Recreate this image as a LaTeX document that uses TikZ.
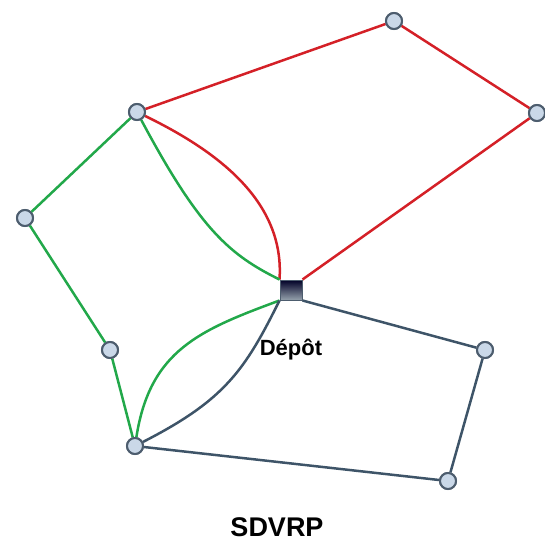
\documentclass[tikz,border=0pt]{standalone}
\usepackage{fontspec}
\setmainfont{Liberation Sans}
\definecolor{routered}{HTML}{D42027}
\definecolor{routegreen}{HTML}{22A84A}
\definecolor{routeblue}{HTML}{3E5468}
\definecolor{nodefill}{HTML}{CAD8E8}
\definecolor{nodeline}{HTML}{4D5D6E}
\begin{document}
\begin{tikzpicture}[x=1pt,y=-1pt,
  client/.style={circle,draw=nodeline,fill=nodefill,line width=2pt,minimum size=16pt,inner sep=0pt},
  depot/.style={rectangle,draw=nodeline,line width=1pt,minimum width=22pt,minimum height=20pt,inner sep=0pt,top color=black!85!blue,bottom color=routeblue!55!white},
  red/.style={draw=routered,line width=2.5pt},
  green/.style={draw=routegreen,line width=2.5pt},
  blue/.style={draw=routeblue,line width=2.5pt}]
\useasboundingbox (0,0) rectangle (545,548);
% depot and clients
\node[depot] (d) at (291,290) {};
\node[client] (t) at (394,21) {};
\node[client] (r) at (537,113) {};
\node[client] (n) at (137,112) {};
\node[client] (l) at (25,218) {};
\node[client] (m) at (110,350) {};
\node[client] (b) at (135,446) {};
\node[client] (rr) at (485,350) {};
\node[client] (br) at (448,481) {};
% red route
\path[red] (d.north east) -- (r) -- (t) -- (n)
  .. controls (215,150) and (285,200) .. (d.north west);
% green route
\path[green] (n) -- (l) -- (m) -- (b)
  .. controls (150,350) and (200,330) .. (d.south west);
\path[green] (d.north west) .. controls (230,255) and (200,230) .. (n);
% blue route
\path[blue] (d.south east) -- (rr) -- (br) -- (b)
  .. controls (225,400) and (245,370) .. (d.south west);
% nodes drawn again above the routes
\node[depot] at (d) {};
\foreach \c in {t,r,n,l,m,b,rr,br}
  \node[client] at (\c) {};
\node[font=\bfseries\fontsize{22}{26}\selectfont] (lbl) at (291,350) {Dépôt};
\node[font=\bfseries\fontsize{27}{32}\selectfont] (title) at (277,527) {SDVRP};
\end{tikzpicture}
\end{document}
